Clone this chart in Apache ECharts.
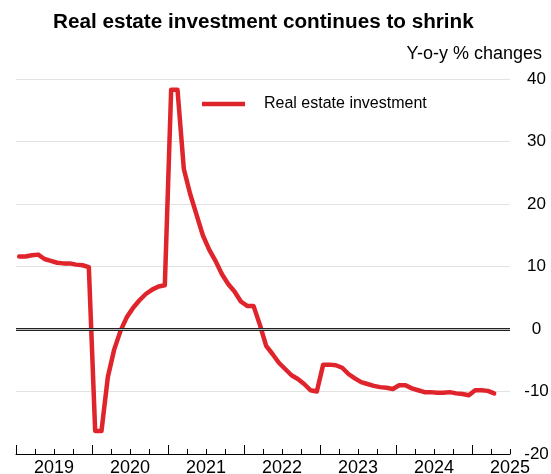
<!DOCTYPE html>
<html><head><meta charset="utf-8">
<script src="https://cdn.jsdelivr.net/npm/echarts@6/dist/echarts.min.js"></script>
<style>html,body{margin:0;padding:0;background:#fff}#c{width:551px;height:474px}</style>
</head><body><div id="c"></div>
<script>
// ---- data (year-to-date, y-o-y % change; Jan shown equal to Jan-Feb) ----
const years = [2019, 2020, 2021, 2022, 2023, 2024, 2025];
const v2019 = [11.6, 11.6, 11.8, 11.9, 11.2, 10.9, 10.6, 10.5, 10.5, 10.3, 10.2, 9.9];
const v2020 = [-16.3, -16.3, -7.7, -3.3, -0.3, 1.9, 3.4, 4.6, 5.6, 6.3, 6.8, 7.0];
const v2021 = [38.3, 38.3, 25.6, 21.6, 18.3, 15.0, 12.7, 10.9, 8.8, 7.2, 6.0, 4.4];
const v2022 = [3.7, 3.7, 0.7, -2.7, -4.0, -5.4, -6.4, -7.4, -8.0, -8.8, -9.8, -10.0];
const v2023 = [-5.7, -5.7, -5.8, -6.2, -7.2, -7.9, -8.5, -8.8, -9.1, -9.3, -9.4, -9.6];
const v2024 = [-9.0, -9.0, -9.5, -9.8, -10.1, -10.1, -10.2, -10.2, -10.1, -10.3, -10.4, -10.6];
const v2025 = [-9.8, -9.8, -9.9, -10.3];
const yearValues = [v2019, v2020, v2021, v2022, v2023, v2024, v2025];
const xLabels = ['2019', '2020', '2021', '2022', '2023', '2024', '2025'];
const yTicks = [-20, -10, 0, 10, 20, 30, 40];
const seriesName = 'Real estate investment';
const titleText = 'Real estate investment continues to shrink';
const unitText = 'Y-o-y % changes';

// x scale: months since Jan 2019; each monthly value sits at mid-month
const data = [];
years.forEach((y, yi) => {
  yearValues[yi].forEach((v, m) => data.push([(y - years[0]) * 12 + m + 0.5, v]));
});
const xMin = 0;
const xMax = (years.length - 1) * 12 + 6;
const quarterTicks = [], yearTicks = [], labelPos = [];
for (let t = xMin; t <= xMax; t += 3) quarterTicks.push(t);
years.forEach((y, i) => { yearTicks.push(i * 12); labelPos.push(i * 12 + 6); });

const FONT = '"Liberation Sans", Arial, sans-serif';
const chart = echarts.init(document.getElementById('c'), null, { renderer: 'canvas' });
chart.setOption({
  animation: false,
  backgroundColor: '#fff',
  title: {
    text: titleText, left: 53, top: 12, padding: 0,
    textStyle: { fontFamily: FONT, fontSize: 20.7, fontWeight: 'bold', color: '#000' }
  },
  graphic: [{
    type: 'text', right: 9, top: 45,
    style: { text: unitText, font: '18px ' + FONT, fill: '#000' }
  }],
  legend: {
    data: [seriesName], left: 202, top: 96, padding: 0,
    icon: 'rect', itemWidth: 43, itemHeight: 4.5,
    textStyle: { fontFamily: FONT, fontSize: 16, color: '#000', padding: [0, 0, 0, 14] }
  },
  grid: { left: 16, right: 41, top: 79, bottom: 20, containLabel: false, outerBoundsMode: 'none' },
  xAxis: [{
    type: 'value', min: xMin, max: xMax,
    axisLine: { show: true, onZero: false, lineStyle: { color: '#000', width: 1 } },
    axisTick: { show: true, inside: true, length: 5, customValues: quarterTicks, lineStyle: { color: '#000', width: 1 } },
    axisLabel: {
      show: true, customValues: labelPos, margin: 5, hideOverlap: false,
      fontFamily: FONT, fontSize: 18, color: '#000',
      formatter: v => xLabels[Math.round((v - 6) / 12)]
    },
    splitLine: { show: false }
  }, {
    type: 'value', min: xMin, max: xMax, position: 'bottom', offset: 0,
    axisLine: { show: false, onZero: false },
    axisTick: { show: true, inside: true, length: 9, customValues: yearTicks, lineStyle: { color: '#000', width: 1 } },
    axisLabel: { show: false },
    splitLine: { show: false }
  }],
  yAxis: {
    type: 'value', position: 'right', min: yTicks[0], max: yTicks[yTicks.length - 1], interval: 10,
    axisLine: { show: false }, axisTick: { show: false },
    axisLabel: { margin: 26.5, align: 'center', fontFamily: FONT, fontSize: 17, color: '#000' },
    splitLine: { show: true, lineStyle: { color: '#e2e2e2', width: 1.2 } }
  },
  series: [{
    type: 'line', name: 'zero', data: [], z: 1, silent: true,
    markLine: {
      silent: true, symbol: 'none', label: { show: false }, animation: false,
      data: [
        { yAxis: 0, lineStyle: { color: '#222', width: 3.2, type: 'solid' } },
        { yAxis: 0, lineStyle: { color: '#bbb', width: 1, type: 'solid' } }
      ]
    }
  }, {
    type: 'line', name: seriesName, data: data, z: 3,
    showSymbol: false, symbol: 'none',
    lineStyle: { color: '#e0242c', width: 4.5, join: 'round', cap: 'round' },
    itemStyle: { color: '#e0242c' }
  }]
});
</script></body></html>
